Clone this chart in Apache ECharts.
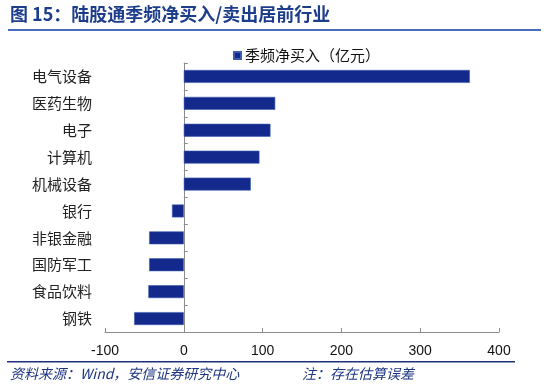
<!DOCTYPE html>
<html>
<head>
<meta charset="utf-8">
<script src="https://cdn.jsdelivr.net/npm/echarts@6/dist/echarts.min.js"></script>
<style>
html,body{margin:0;padding:0;background:#fff;}
#chart{width:550px;height:390px;}
</style>
</head>
<body>
<div id="chart"></div>
<script>
const titleText = '图 15：陆股通季频净买入/卖出居前行业';
const sourceText = '资料来源：Wind，安信证券研究中心';
const noteText = '注：存在估算误差';
const seriesName = '季频净买入（亿元）';
const categories = ['电气设备','医药生物','电子','计算机','机械设备','银行','非银金融','国防军工','食品饮料','钢铁'];
const values = [363, 116, 110, 96, 85, -15, -44, -44, -45, -63];
const xMin = -100, xMax = 400, xInterval = 100;

const FONT = '"Noto Sans CJK SC", "Noto Sans", sans-serif';
const chart = echarts.init(document.getElementById('chart'), null, {renderer:'canvas'});
chart.setOption({
  animation: false,
  backgroundColor: '#fff',
  textStyle: {fontFamily: FONT},
  grid: {left: 105, right: 51, top: 63, bottom: 58, containLabel: false, outerBoundsMode: 'none'},
  legend: {
    data: [seriesName],
    left: 228, top: 43,
    icon: 'rect', itemWidth: 7, itemHeight: 7, itemGap: 4,
    textStyle: {fontSize: 15, color: '#111', fontFamily: FONT, padding: [0,0,0,-1]}
  },
  xAxis: {
    type: 'value', min: xMin, max: xMax, interval: xInterval,
    splitLine: {show: false},
    axisLine: {show: true, lineStyle: {color: '#8c8c8c', width: 1}},
    axisTick: {show: true, inside: true, length: 4, lineStyle: {color: '#8c8c8c'}},
    axisLabel: {fontSize: 14, color: '#111', margin: 12, fontFamily: 'Liberation Sans, Arial, sans-serif'}
  },
  yAxis: {
    type: 'category', inverse: true, data: categories,
    axisLine: {show: true, onZero: true, lineStyle: {color: '#8c8c8c', width: 1}},
    axisTick: {show: true, inside: true, length: 4, lineStyle: {color: '#8c8c8c'}},
    axisLabel: {fontSize: 15, color: '#222', margin: 13, fontFamily: FONT},
    splitLine: {show: false}
  },
  series: [{
    name: seriesName, type: 'bar', data: values,
    barWidth: '48%',
    itemStyle: {color: '#132a8c', borderColor: '#3d5db0', borderWidth: 0.6}
  }],
  graphic: [
    {type: 'text', left: 10, top: 5, style: {text: titleText, font: 'bold 18px ' + FONT, fill: '#1c3c8c'}},
    {type: 'rect', shape: {x: 8, y: 29, width: 533, height: 2}, style: {fill: '#4a6cbc'}},
    {type: 'rect', shape: {x: 7, y: 361, width: 508, height: 1.5}, style: {fill: '#1d2f7e'}},
    {type: 'text', left: 10, top: 367, style: {text: sourceText, font: 'italic 14px ' + FONT, fill: '#1c3580'}},
    {type: 'text', left: 302, top: 367, style: {text: noteText, font: 'italic 14px ' + FONT, fill: '#1c3580'}}
  ]
});
</script>
</body>
</html>
